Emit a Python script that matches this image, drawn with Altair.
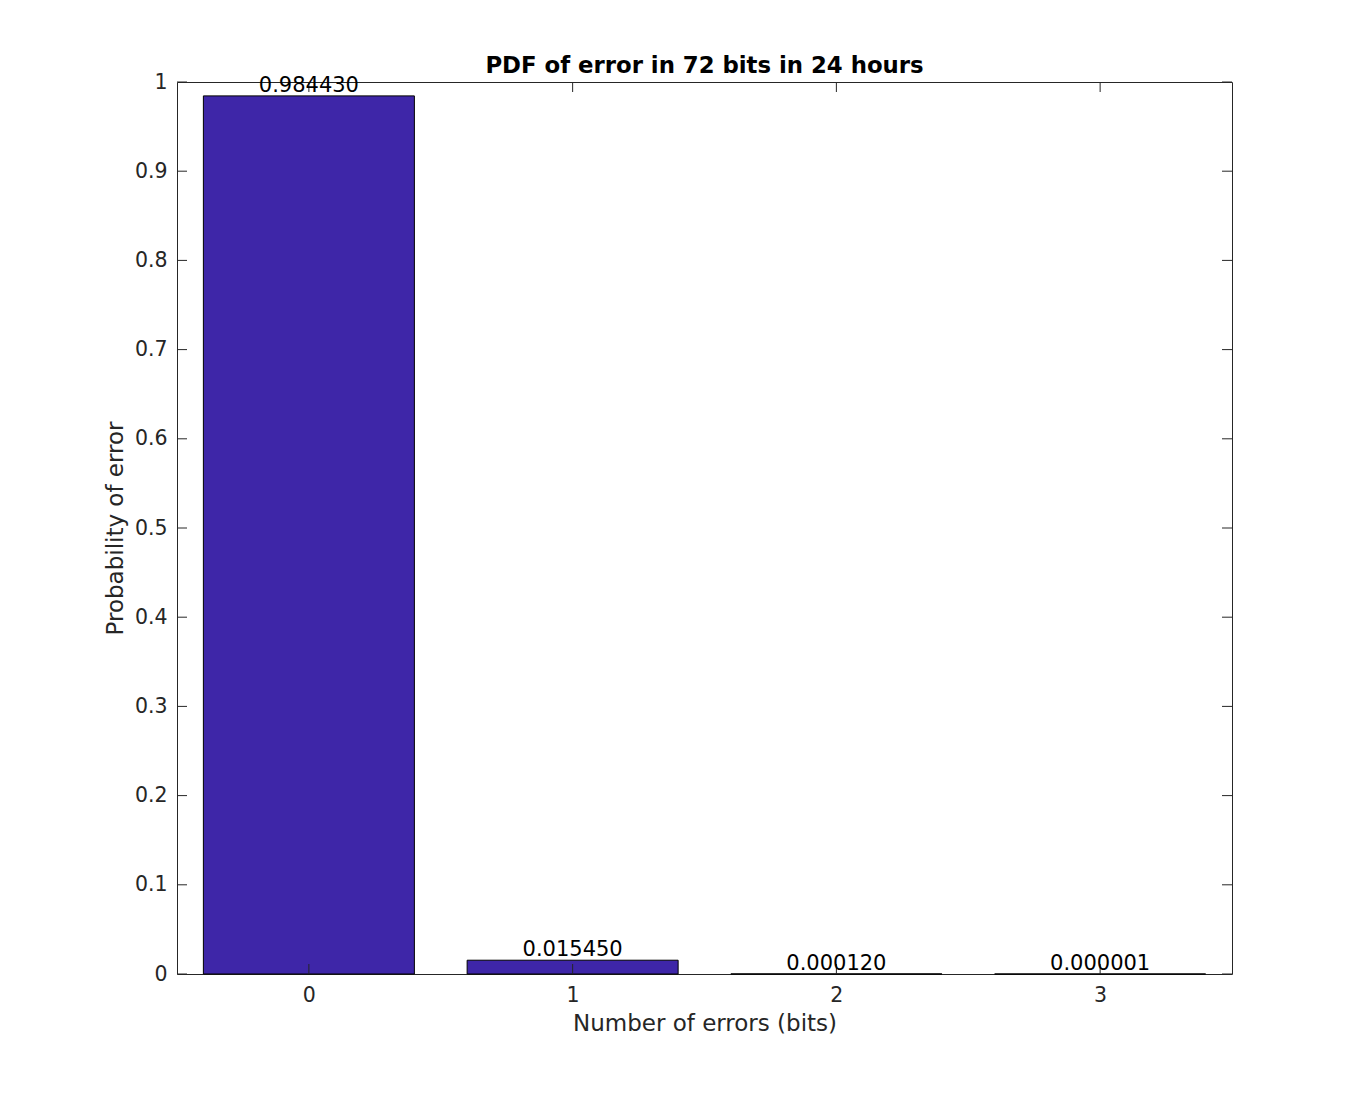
import altair as alt
import pandas as pd

categories = [0, 1, 2, 3]
probabilities = [0.984430, 0.015450, 0.000120, 0.000001]
y_ticks = [0, 0.1, 0.2, 0.3, 0.4, 0.5, 0.6, 0.7, 0.8, 0.9, 1.0]
x_ticks = [0, 1, 2, 3]

W, H = 1055, 892
FONT = "DejaVu Sans"
GRAY = "#262626"

bars_df = pd.DataFrame({"cat": categories, "p": probabilities})
bars_df["x0"] = bars_df["cat"] - 0.4
bars_df["x1"] = bars_df["cat"] + 0.4
bars_df["label"] = [f"{v:.6f}" for v in probabilities]

xscale = alt.Scale(domain=[-0.5, 3.5], nice=False, zero=False)
yscale = alt.Scale(domain=[0, 1], nice=False)

base = alt.Chart(bars_df)

bars = base.mark_rect(color="#3E26A8", stroke="black", strokeWidth=1).encode(
    x=alt.X("x0:Q", scale=xscale,
            axis=alt.Axis(values=x_ticks, format="d", title="Number of errors (bits)",
                          ticks=False, domain=False, grid=False,
                          labelFont=FONT, labelFontSize=20.5, labelColor=GRAY, labelPadding=11,
                          titleFont=FONT, titleFontSize=23, titleFontWeight="normal",
                          titleColor=GRAY, titleBaseline="alphabetic", titleY=56)),
    x2="x1:Q",
    y=alt.Y("p:Q", scale=yscale,
            axis=alt.Axis(values=y_ticks, title="Probability of error",
                          labelExpr="datum.value == 0 ? '0' : datum.value == 1 ? '1' : format(datum.value, '.1f')",
                          ticks=False, domain=False, grid=False,
                          labelFont=FONT, labelFontSize=20.5, labelColor=GRAY, labelPadding=10,
                          titleFont=FONT, titleFontSize=23, titleFontWeight="normal",
                          titleColor=GRAY, titleBaseline="alphabetic", titleX=-55, titleY=H / 2)),
    y2=alt.datum(0),
)

labels = base.mark_text(baseline="alphabetic", dy=-4, font=FONT, fontSize=21, color="black").encode(
    x=alt.X("cat:Q", scale=xscale),
    y=alt.Y("p:Q", scale=yscale),
    text="label:N",
)

ytick_df = pd.DataFrame({"v": y_ticks})
xtick_df = pd.DataFrame({"v": x_ticks})

ytl = alt.Chart(ytick_df).mark_rule(color=GRAY, strokeWidth=1).encode(
    y=alt.Y("v:Q", scale=yscale), x=alt.value(0), x2=alt.value(10))
ytr = alt.Chart(ytick_df).mark_rule(color=GRAY, strokeWidth=1).encode(
    y=alt.Y("v:Q", scale=yscale), x=alt.value(W - 10), x2=alt.value(W))
xtb = alt.Chart(xtick_df).mark_rule(color=GRAY, strokeWidth=1).encode(
    x=alt.X("v:Q", scale=xscale), y=alt.value(H - 10), y2=alt.value(H))
xtt = alt.Chart(xtick_df).mark_rule(color=GRAY, strokeWidth=1).encode(
    x=alt.X("v:Q", scale=xscale), y=alt.value(0), y2=alt.value(10))

chart = alt.layer(bars, ytl, ytr, xtb, xtt, labels).properties(
    width=W, height=H,
    title=alt.TitleParams("PDF of error in 72 bits in 24 hours", font=FONT, fontSize=22.8,
                          fontWeight="bold", color="black", anchor="middle", offset=9,
                          frame="group", baseline="alphabetic", dy=33),
    autosize=alt.AutoSizeParams(type="none"),
    padding={"left": 169, "top": 74, "right": 100, "bottom": 100},
    background="white",
).configure_view(stroke=GRAY, strokeWidth=1)

chart.save("out.html", embed_options={"renderer": "svg", "actions": False})
